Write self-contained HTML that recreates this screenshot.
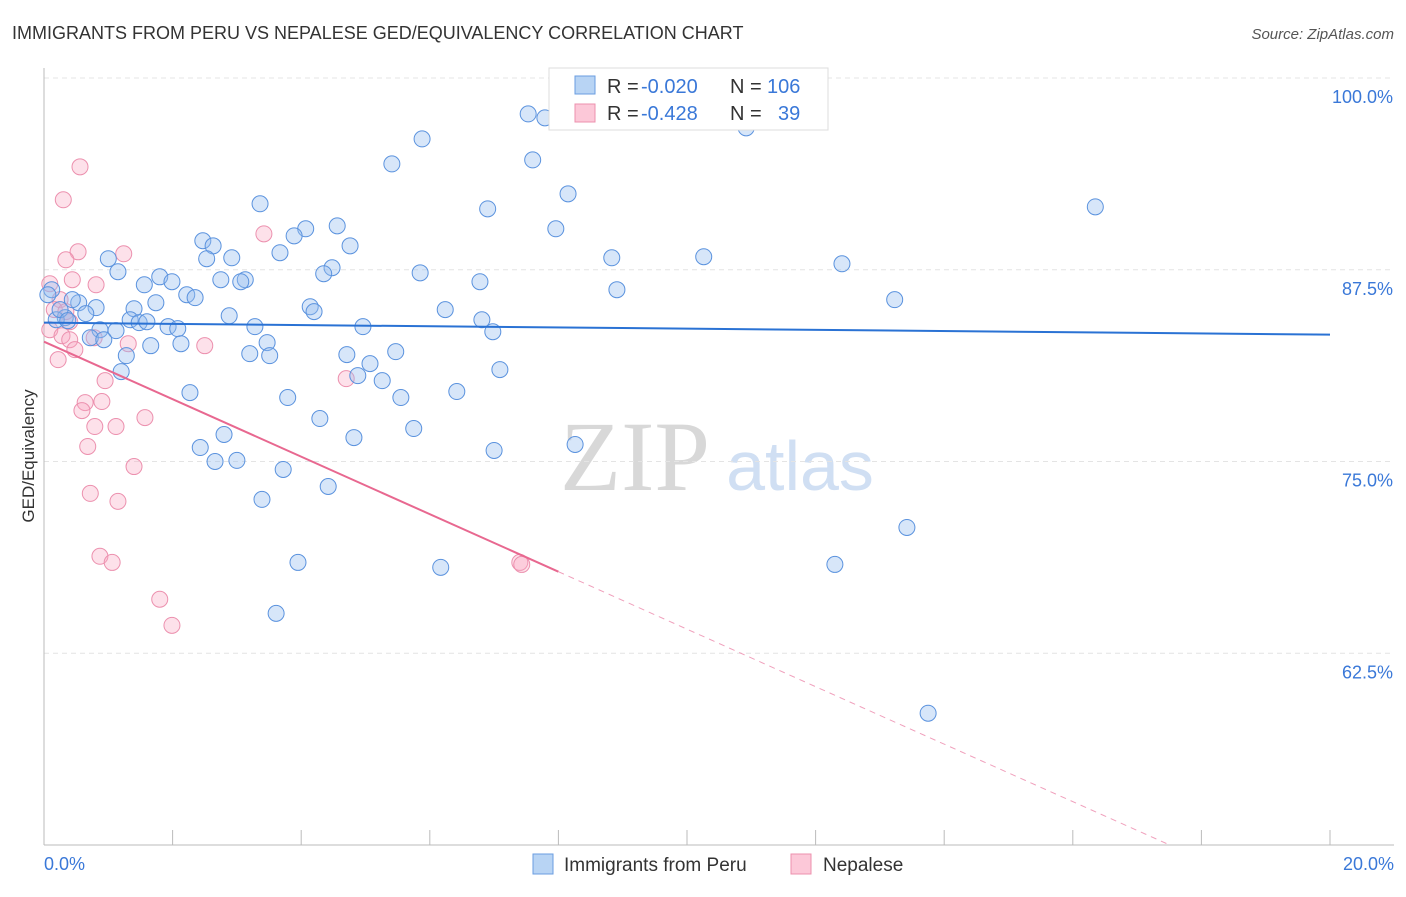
<!DOCTYPE html>
<html><head><meta charset="utf-8"><style>
body{margin:0;background:#fff;font-family:"Liberation Sans",sans-serif}
svg text{font-family:"Liberation Sans",sans-serif}
</style></head><body>
<svg id="chart" width="1406" height="892" xmlns="http://www.w3.org/2000/svg">
<text x="12" y="39" font-size="18" fill="#333">IMMIGRANTS FROM PERU VS NEPALESE GED/EQUIVALENCY CORRELATION CHART</text>
<text x="1394" y="39" font-size="15" fill="#555" text-anchor="end" font-style="italic">Source: ZipAtlas.com</text>
<g>
<text x="635" y="490" font-size="100" fill="#d8d8d8" text-anchor="middle" style="font-family:'Liberation Serif',serif">ZIP</text>
<text x="800" y="490" font-size="70" fill="#d0dff3" text-anchor="middle">atlas</text>
</g>
<g id="grid"></g><g id="axes"></g><g id="pts"></g><g id="trends"></g>
<text transform="translate(34,456) rotate(-90)" font-size="17" fill="#333" text-anchor="middle">GED/Equivalency</text>
<g>
<rect x="549" y="68" width="279" height="62" fill="#fff" stroke="#ddd"/>
<rect x="575" y="76" width="20" height="18" fill="#b8d4f4" stroke="#6a9de0"/>
<rect x="575" y="104" width="20" height="18" fill="#fcc8d8" stroke="#ec90ae"/>
<text x="607" y="93" font-size="20" fill="#333">R =</text>
<text x="641" y="93" font-size="20" fill="#3a78d8">-0.020</text>
<text x="730" y="93" font-size="20" fill="#333">N =</text>
<text x="767" y="93" font-size="20" fill="#3a78d8">106</text>
<text x="607" y="120" font-size="20" fill="#333">R =</text>
<text x="641" y="120" font-size="20" fill="#3a78d8">-0.428</text>
<text x="730" y="120" font-size="20" fill="#333">N =</text>
<text x="778" y="120" font-size="20" fill="#3a78d8">39</text>
</g>
<g>
<rect x="533" y="854" width="20" height="20" fill="#b8d4f4" stroke="#6a9de0"/>
<text x="564" y="871" font-size="19" fill="#333">Immigrants from Peru</text>
<rect x="791" y="854" width="20" height="20" fill="#fcc8d8" stroke="#ec90ae"/>
<text x="823" y="871" font-size="19" fill="#333">Nepalese</text>
</g>
</svg>
<script>
const yTicks=[100,87.5,75,62.5];
const yTickLabels=["100.0%","87.5%","75.0%","62.5%"];
const xTickLabels=["0.0%","20.0%"];
const peruX=[7.53,7.79,10.92,5.88,5.41,7.6,8.15,3.36,6.9,16.35,7.96,4.56,4.07,3.89,2.47,2.63,4.76,3.67,2.53,2.92,1.0,8.83,10.26,12.41,1.15,4.48,4.35,5.85,1.8,2.75,3.13,3.06,6.78,1.56,1.99,2.22,2.35,8.91,0.12,1.74,0.54,0.81,1.4,4.14,4.2,6.24,13.23,0.33,0.19,0.65,1.34,1.48,1.6,2.88,6.81,1.93,2.08,3.28,4.96,6.98,0.87,1.12,0.72,0.93,1.66,2.13,3.47,5.47,1.28,3.2,3.51,4.71,1.2,5.07,7.09,4.88,5.26,2.27,3.79,5.55,6.42,4.29,5.75,4.82,2.8,8.26,2.43,7.0,2.66,3.0,3.72,4.42,3.39,13.42,3.95,6.17,12.3,3.61,13.75,0.25,0.37,0.44,0.06];
const peruY=[97.66,97.4,96.75,96.03,94.4,94.66,92.45,91.8,91.47,91.6,90.17,90.36,90.17,89.71,89.39,89.06,89.06,88.61,88.22,88.28,88.22,88.28,88.35,87.89,87.37,87.63,87.24,87.3,87.04,86.85,86.85,86.72,86.72,86.52,86.72,85.87,85.68,86.2,86.2,85.35,85.35,85.03,84.96,85.09,84.77,84.9,85.55,84.38,84.24,84.64,84.24,84.05,84.11,84.5,84.24,83.79,83.66,83.79,83.79,83.46,83.59,83.53,83.07,82.94,82.55,82.68,82.75,82.16,81.9,82.03,81.9,81.97,80.86,81.38,80.99,80.6,80.27,79.49,79.17,79.17,79.56,77.8,77.15,76.56,76.76,76.11,75.91,75.72,75.0,75.07,74.48,73.37,72.53,70.7,68.42,68.1,68.29,65.1,58.59,84.9,84.18,85.55,85.87];
const nepX=[0.56,0.3,1.24,0.53,0.34,0.44,0.81,0.09,3.42,0.25,0.16,0.09,0.28,0.4,0.48,0.78,1.31,2.5,0.22,0.95,4.7,0.64,0.59,0.9,1.57,0.79,1.12,0.68,1.4,0.72,1.15,0.87,1.06,7.4,7.43,1.8,1.99,0.4,0.34];
const nepY=[94.21,92.06,88.54,88.67,88.15,86.85,86.52,86.59,89.84,85.55,84.9,83.59,83.2,82.94,82.29,83.07,82.68,82.55,81.64,80.27,80.4,78.84,78.32,78.91,77.86,77.28,77.28,75.98,74.67,72.92,72.4,68.82,68.42,68.42,68.29,66.02,64.32,84.11,84.77];
const peruTrend=[84.05,83.27];
const nepTrend=[82.81,-1.874];
const X0=44,X1=1330,Y0=78,Y1=845;
const sx=v=>X0+(v/20)*(X1-X0);
const sy=v=>Y0+(100-v)/50*(Y1-Y0);
const NS="http://www.w3.org/2000/svg";
function mk(parent,tag,attrs){const e=document.createElementNS(NS,tag);for(const k in attrs)e.setAttribute(k,attrs[k]);document.getElementById(parent).appendChild(e);return e;}
yTicks.forEach((t,i)=>{
 const g=mk('grid','line',{x1:X0,x2:1394,y1:sy(t),y2:sy(t),stroke:'#e4e4e4','stroke-dasharray':'5,4'});
 
 
 const l=mk('axes','text',{x:1393,y:sy(t)+25,'font-size':18,fill:'#3a78d8','text-anchor':'end'});
 l.textContent=yTickLabels[i];
 
 
});
const ax=mk('axes','line',{x1:X0,x2:X0,y1:68,y2:Y1,stroke:'#bbb'});


const bx=mk('axes','line',{x1:X0,x2:1394,y1:Y1,y2:Y1,stroke:'#bbb'});


for(let i=0;i<=10;i++){
 const t=mk('axes','line',{x1:sx(i*2),x2:sx(i*2),y1:Y1-15,y2:Y1,stroke:'#bbb'});
 
 
}
[[0,'start',44],[20,'end',1394]].forEach((d,i)=>{
 const l=mk('axes','text',{x:d[2],y:870,'font-size':18,fill:'#3a78d8','text-anchor':d[1]});
 l.textContent=xTickLabels[i];
 
 
});
nepX.forEach((x,i)=>{
 const c=mk('pts','circle',{cx:sx(x),cy:sy(nepY[i]),r:8,fill:'rgba(248,170,196,0.35)',stroke:'#ec90ae','stroke-width':1});
 
 
});
peruX.forEach((x,i)=>{
 const c=mk('pts','circle',{cx:sx(x),cy:sy(peruY[i]),r:8,fill:'rgba(150,190,240,0.38)',stroke:'#5a92de','stroke-width':1});
 
 
});
const bt=mk('trends','line',{x1:sx(0),y1:sy(peruTrend[0]),x2:sx(20),y2:sy(peruTrend[1]),stroke:'#2a72d4','stroke-width':2});


const xe=8.0, xz=(nepTrend[0]-50)/-nepTrend[1];
const pt=mk('trends','line',{x1:sx(0),y1:sy(nepTrend[0]),x2:sx(xe),y2:sy(nepTrend[0]+nepTrend[1]*xe),stroke:'#e86890','stroke-width':2});


const pd=mk('trends','line',{x1:sx(xe),y1:sy(nepTrend[0]+nepTrend[1]*xe),x2:sx(xz),y2:sy(50),stroke:'#f0a0bc','stroke-width':1,'stroke-dasharray':'6,5'});


</script>
</body></html>
